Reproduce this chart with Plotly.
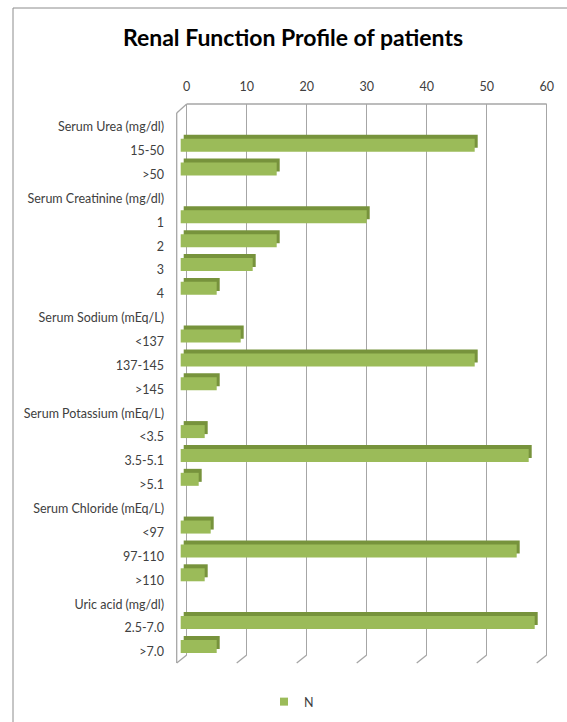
import plotly.graph_objects as go

categories = [
    "Serum Urea (mg/dl)", "15-50", ">50",
    "Serum Creatinine (mg/dl)", "1", "2", "3", "4",
    "Serum Sodium (mEq/L)", "<137", "137-145", ">145",
    "Serum Potassium (mEq/L)", "<3.5", "3.5-5.1", ">5.1",
    "Serum Chloride (mEq/L)", "<97", "97-110", ">110",
    "Uric acid (mg/dl)", "2.5-7.0", ">7.0",
]
values = [None, 48, 15,
          None, 30, 15, 11, 5,
          None, 9, 48, 5,
          None, 3, 57, 2,
          None, 4, 55, 3,
          None, 58, 5]
x_ticks = [0, 10, 20, 30, 40, 50, 60]
series_name = "N"

W, H = 567, 722
L, R, T, B = 177, 550, 104, 655
FONT = "Lato, 'Open Sans', sans-serif"
FRONT = "#9BBB59"
SIDE = "#77933C"
GRID = "#a6a6a6"
DEPTH = 1.0  # 3D depth in data units

def fx(px):
    return (px - L) / (R - L)

def fy(py):
    return (B - py) / (B - T)

lengths = [None if v is None else v + DEPTH for v in values]

fig = go.Figure()
# darker back/side face
fig.add_trace(go.Bar(
    y=categories, x=lengths, base=-DEPTH / 2, orientation="h",
    marker=dict(color=SIDE, line=dict(width=0)),
    width=0.545, offset=-0.67, showlegend=False, hoverinfo="skip",
))
# front face
fig.add_trace(go.Bar(
    y=categories, x=lengths, base=-DEPTH, orientation="h",
    marker=dict(color=FRONT, line=dict(width=0)),
    width=0.545, offset=-0.503, showlegend=False, name=series_name,
))
# legend entry
fig.add_trace(go.Scatter(
    x=[None], y=[None], mode="markers", name=series_name,
    marker=dict(symbol="square", size=8, color=FRONT),
))

shapes = []
gl = dict(color=GRID, width=1.3)
border = dict(color="#8c8c8c", width=1)
# outer border (top and left edges; right/bottom lie outside the picture)
shapes.append(dict(type="line", xref="paper", yref="paper",
                   x0=fx(13), x1=fx(600), y0=fy(8), y1=fy(8), line=border))
shapes.append(dict(type="line", xref="paper", yref="paper",
                   x0=fx(13), x1=fx(13), y0=fy(8), y1=fy(760), line=border))
# back wall top edge
shapes.append(dict(type="line", xref="paper", yref="paper",
                   x0=fx(186.7), x1=fx(546.7), y0=fy(104), y1=fy(104), line=gl))
# left wall
shapes.append(dict(type="line", xref="paper", yref="paper",
                   x0=fx(176.7), x1=fx(176.7), y0=fy(113), y1=fy(663), line=gl))
shapes.append(dict(type="line", xref="paper", yref="paper",
                   x0=fx(176.7), x1=fx(186.7), y0=fy(113), y1=fy(104), line=gl))
# floor diagonals
for k in range(len(x_ticks)):
    xp = 186.7 + 60 * k
    shapes.append(dict(type="line", xref="paper", yref="paper",
                       x0=fx(xp), x1=fx(xp - 10), y0=fy(655), y1=fy(663), line=gl))

fig.update_layout(
    width=W, height=H,
    margin=dict(l=L, r=W - R, t=T, b=H - B, pad=0, autoexpand=False),
    paper_bgcolor="white", plot_bgcolor="white",
    barmode="overlay",
    font=dict(family=FONT, size=12.5, color="#404040"),
    title=dict(text="<b>Renal Function Profile of patients</b>",
               font=dict(family=FONT, size=23, color="#000000"),
               xref="container", x=293 / W, xanchor="center",
               yref="container", y=1 - 38 / H, yanchor="middle"),
    xaxis=dict(side="top", range=[-(186.7 - L) / 6, -(186.7 - L) / 6 + (R - L) / 6],
               tickvals=x_ticks, showgrid=True, gridcolor=GRID, gridwidth=1.3,
               zeroline=True, zerolinecolor=GRID, zerolinewidth=1.3,
               showline=False, ticks="", ticklabelstandoff=10,
               tickfont=dict(size=12.5, color="#404040")),
    yaxis=dict(type="category", range=[22.13, -0.955], showgrid=False,
               zeroline=False, showline=False, ticks="", ticklabelstandoff=12,
               tickfont=dict(size=12.5, color="#404040")),
    legend=dict(orientation="h", x=fx(264), xanchor="left",
                y=fy(702), yanchor="middle", font=dict(size=12.5, color="#404040")),
    shapes=shapes,
)

fig.write_html("out.html", config={"displayModeBar": False})

# remove the browser's default page margin so the figure sits at (0, 0)
with open("out.html", "r", encoding="utf-8") as f:
    html = f.read()
html = html.replace("<head>", "<head><style>html,body{margin:0;padding:0;overflow:hidden;}</style>", 1)
with open("out.html", "w", encoding="utf-8") as f:
    f.write(html)
